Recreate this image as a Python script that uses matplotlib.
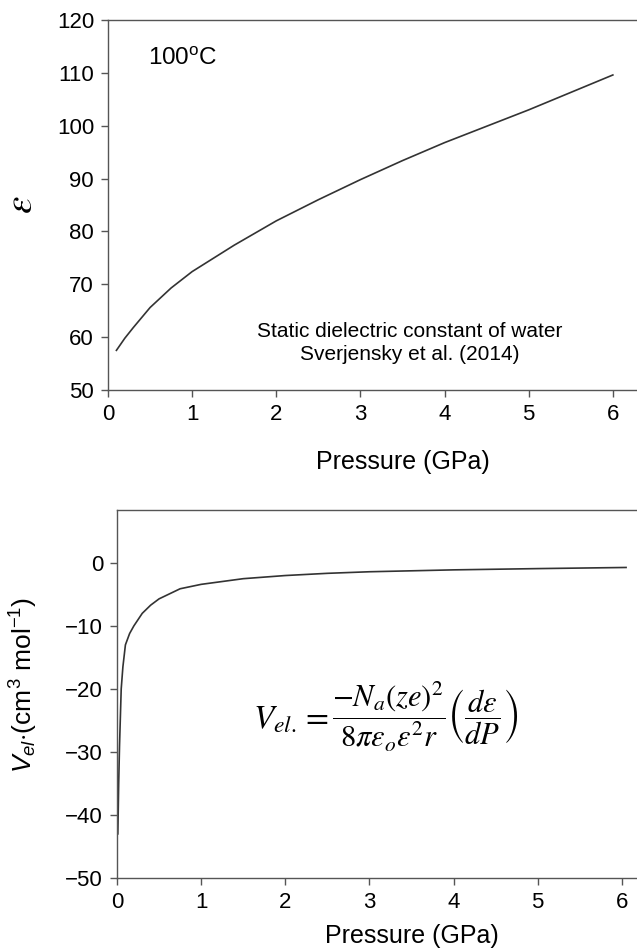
import numpy as np
import matplotlib
matplotlib.use("Agg")
import matplotlib.pyplot as plt

plt.rcParams['font.family'] = ['Liberation Sans', 'DejaVu Sans']
plt.rcParams['mathtext.fontset'] = 'custom'
plt.rcParams['mathtext.rm'] = 'Liberation Sans'
plt.rcParams['mathtext.it'] = 'Liberation Sans:italic'
plt.rcParams['mathtext.bf'] = 'Liberation Sans:bold'

# static dielectric constant of water at 100 C
p_eps = [0.1, 0.2, 0.3, 0.5, 0.75, 1.0, 1.5, 2.0, 2.5, 3.0, 3.5, 4.0, 4.5, 5.0, 5.5, 6.0]
eps = [57.5, 59.8, 61.8, 65.6, 69.3, 72.4, 77.4, 82.0, 86.0, 89.8, 93.4, 96.8, 99.9, 103.0, 106.3, 109.6]

# electrostatic volume
p_vel = [0.01, 0.02, 0.03, 0.05, 0.07, 0.1, 0.15, 0.2, 0.3, 0.4, 0.5, 0.75, 1.0,
         1.5, 2.0, 2.5, 3.0, 4.0, 5.0, 6.05]
vel = [-43, -35, -29, -20, -16.5, -13, -11.2, -10, -8, -6.7, -5.7, -4.1, -3.4,
       -2.5, -2.0, -1.65, -1.4, -1.1, -0.9, -0.72]

xticks = [0, 1, 2, 3, 4, 5, 6]
spine_col = '#555555'
line_col = '#333333'

fig = plt.figure(figsize=(6.37, 9.51), dpi=100)

W = 589 / 637.0
ax1 = fig.add_axes([108 / 637.0, 1 - 390 / 951.0, W, 370 / 951.0])
ax2 = fig.add_axes([117 / 637.0, 1 - 878 / 951.0, W, 368 / 951.0])

for ax in (ax1, ax2):
    for s in ax.spines.values():
        s.set_color(spine_col)
        s.set_linewidth(1.0)
    ax.tick_params(direction='out', length=5, width=1, color=spine_col,
                   labelsize=16, pad=5)
    ax.set_xlim(0, 7)
    ax.set_xticks(xticks)

ax1.set_xlabel("Pressure (GPa)", fontsize=18, labelpad=18)
ax2.set_xlabel("Pressure (GPa)", fontsize=18, labelpad=8)

ax1.plot(p_eps, eps, color=line_col, lw=1.2)
ax1.set_ylim(50, 120)
ax1.set_yticks(range(50, 121, 10))
ax1.set_ylabel(r"$\varepsilon$", fontsize=28, math_fontfamily='stix', labelpad=12)
ax1.text(0.475, 111.5, r"100$^{\mathregular{o}}$C", fontsize=17.5, va='baseline')
ax1.text(3.59, 60.0, "Static dielectric constant of water", fontsize=15,
         ha='center', va='baseline')
ax1.text(3.59, 55.7, "Sverjensky et al. (2014)", fontsize=15,
         ha='center', va='baseline')

ax2.plot(p_vel, vel, color=line_col, lw=1.2)
ax2.set_ylim(-50, 8.4)
ax2.set_yticks([-50, -40, -30, -20, -10, 0])
ax2.set_yticklabels(["\u221250", "\u221240", "\u221230", "\u221220", "\u221210", "0"])
ax2.set_ylabel(r"$V_{el}$$\cdot$(cm$^3$ mol$^{-1}$)", fontsize=19)
ax2.yaxis.set_label_coords(-0.131, 0.524)

# equation: left-hand side larger, fraction part in display style
ax2.text(2.52, -26.2, r"$V_{el.}=$", fontsize=24, math_fontfamily='stix',
         ha='right', va='baseline')
ax2.text(2.557, -24.4,
         r"$\dfrac{-N_a(ze)^2}{8\pi\varepsilon_o\varepsilon^2r}\left(\dfrac{d\varepsilon}{dP}\right)$",
         fontsize=22, math_fontfamily='stix', ha='left', va='center')

fig.savefig("out.png", dpi=100)
